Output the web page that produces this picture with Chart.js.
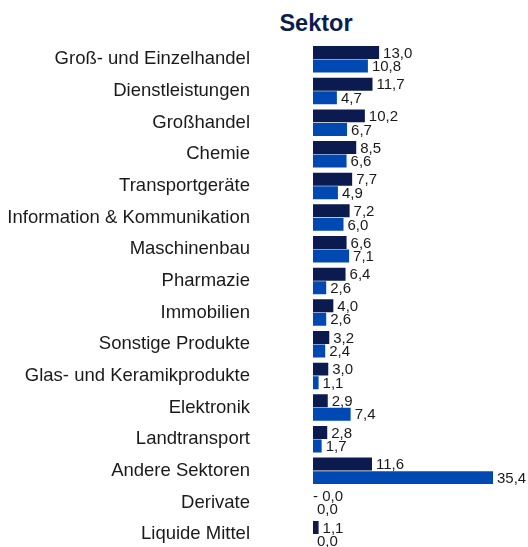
<!DOCTYPE html>
<html>
<head>
<meta charset="utf-8">
<script src="https://cdn.jsdelivr.net/npm/chart.js@4/dist/chart.umd.min.js"></script>
<style>
  html, body { margin: 0; padding: 0; background: #ffffff; overflow: hidden; }
  #wrap { position: relative; width: 528px; height: 547px; overflow: hidden; }
  #title { position: absolute; left: 216px; top: 12px; width: 200px; text-align: center;
           font-family: "Liberation Sans", Arial, sans-serif; font-weight: bold; font-size: 23.5px;
           line-height: 23.5px; color: #0b1d4f; }
  canvas { position: absolute; left: 0; top: 0; }
</style>
</head>
<body>
<div id="wrap">
  <div id="title">Sektor</div>
  <canvas id="c" width="528" height="550"></canvas>
</div>
<script>
const categories = [
  "Groß- und Einzelhandel",
  "Dienstleistungen",
  "Großhandel",
  "Chemie",
  "Transportgeräte",
  "Information & Kommunikation",
  "Maschinenbau",
  "Pharmazie",
  "Immobilien",
  "Sonstige Produkte",
  "Glas- und Keramikprodukte",
  "Elektronik",
  "Landtransport",
  "Andere Sektoren",
  "Derivate",
  "Liquide Mittel"
];
const seriesDark = [13.0, 11.7, 10.2, 8.5, 7.7, 7.2, 6.6, 6.4, 4.0, 3.2, 3.0, 2.9, 2.8, 11.6, -0.02, 1.1];
const seriesBlue = [10.8, 4.7, 6.7, 6.6, 4.9, 6.0, 7.1, 2.6, 2.6, 2.4, 1.1, 7.4, 1.7, 35.4, 0.0, 0.0];

const DARK = "#0b1a4f";
const BLUE = "#0049b3";

function fmt(v) {
  const s = Math.abs(v).toFixed(1).replace(".", ",");
  return v < 0 ? "- " + s : s;
}

const valueLabels = {
  id: "valueLabels",
  afterDatasetsDraw(chart) {
    const ctx = chart.ctx;
    ctx.save();
    ctx.font = "15px 'Liberation Sans', Arial, sans-serif";
    ctx.fillStyle = "#1a1a1a";
    ctx.textAlign = "left";
    ctx.textBaseline = "middle";
    chart.data.datasets.forEach((ds, di) => {
      const meta = chart.getDatasetMeta(di);
      meta.data.forEach((el, i) => {
        const v = ds.data[i];
        const x = v < 0 ? el.base : el.x + 4;
        ctx.fillText(fmt(v), x, el.y + 1);
      });
    });
    ctx.restore();
  }
};

new Chart(document.getElementById("c"), {
  type: "bar",
  data: {
    labels: categories,
    datasets: [
      { data: seriesDark, backgroundColor: DARK, categoryPercentage: 0.854, barPercentage: 0.96 },
      { data: seriesBlue, backgroundColor: BLUE, categoryPercentage: 0.854, barPercentage: 0.96 }
    ]
  },
  options: {
    indexAxis: "y",
    responsive: false,
    devicePixelRatio: 1,
    animation: false,
    layout: { padding: { left: 0, right: 11.6, top: 43.5, bottom: 0 } },
    plugins: { legend: { display: false }, title: { display: false }, tooltip: { enabled: false } },
    scales: {
      x: { display: false, min: 0, max: 40 },
      y: {
        grid: { display: false, drawTicks: true, tickLength: 63, color: "rgba(0,0,0,0)" },
        border: { display: false },
        ticks: {
          padding: 0,
          color: "#1a1a1a",
          font: { family: "'Liberation Sans', Arial, sans-serif", size: 18.5 }
        },
        afterFit(scale) {
          scale.width = 313;
          scale.paddingTop = 0;
          scale.paddingBottom = 0;
        }
      }
    }
  },
  plugins: [valueLabels]
});
</script>
</body>
</html>
